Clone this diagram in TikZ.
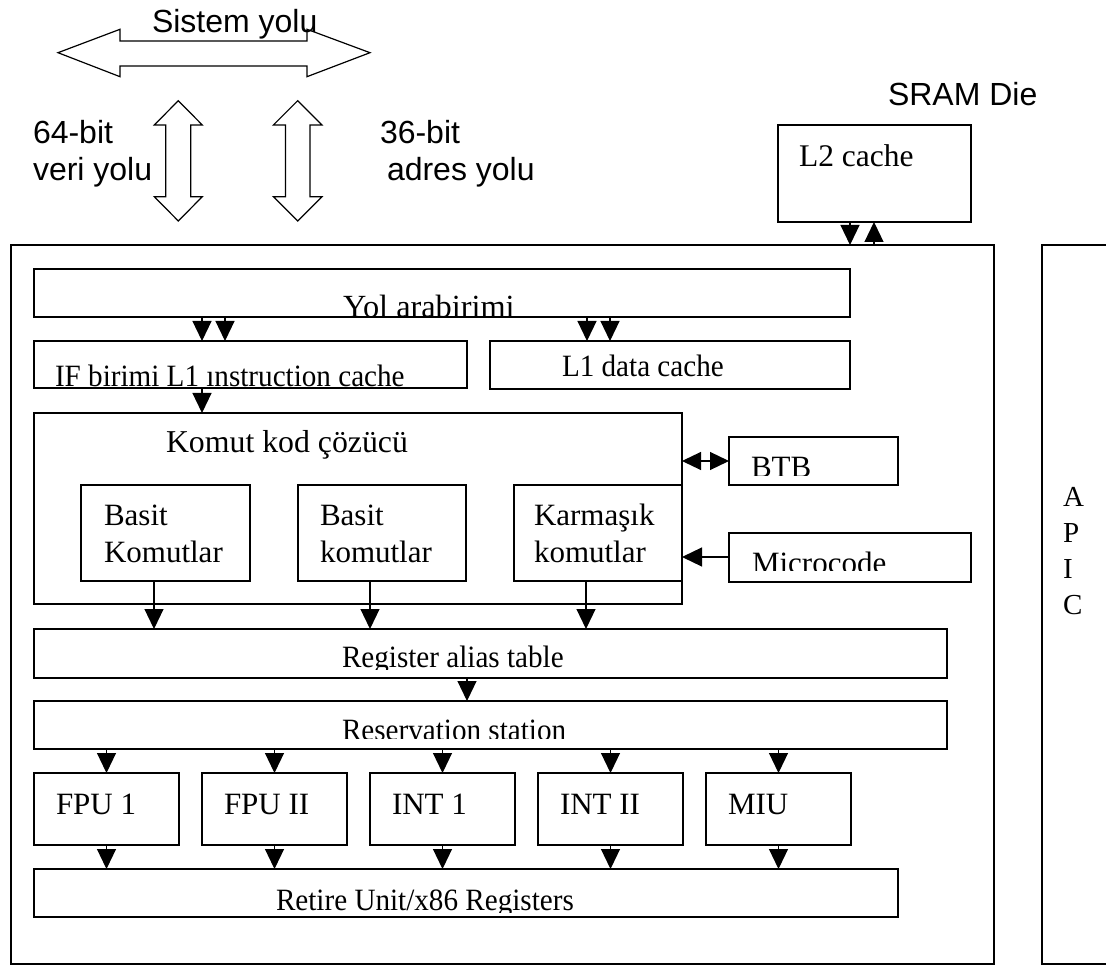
\documentclass[tikz,border=0pt]{standalone}
\usepackage{fontspec}
\setmainfont{Liberation Serif}
\setsansfont{Liberation Sans}
\usetikzlibrary{arrows.meta}
\newcommand\narrow[1]{\scalebox{0.94}[1]{#1}}
\begin{document}
\begin{tikzpicture}[x=1pt,y=-1pt,
  box/.style={draw, line width=1.4pt, inner sep=0pt, outer sep=0pt, anchor=north west},
  txt/.style={inner sep=0pt, outer sep=0pt, anchor=base west, font=\fontsize{31}{36}\selectfont},
  stxt/.style={inner sep=0pt, outer sep=0pt, anchor=base west, font=\sffamily\fontsize{32}{38}\selectfont},
  arr/.style={line width=1.2pt, -{Triangle[length=20pt,width=19pt]}},
  darr/.style={line width=1.2pt, {Triangle[length=19pt,width=18pt]}-{Triangle[length=19pt,width=18pt]}},
  blockarrow/.style={draw, line width=1.2pt, fill=white, line join=miter}]
\useasboundingbox (0,0) rectangle (1106,965);
\clip (0,0) rectangle (1106,965);

% system bus and the two bus arrows
\draw[blockarrow] (58,52.7) -- (120,29.3) -- (120,41) -- (307,41) -- (307,29.3) -- (370,52.7)
  -- (307,76.7) -- (307,66) -- (120,66) -- (120,76.7) -- cycle;
\node[stxt] (sys) at (152,33) {Sistem yolu};
\draw[blockarrow] (178.3,100.7) -- (202.3,125) -- (190.7,125) -- (190.7,196.7) -- (202.3,196.7)
  -- (178.3,221) -- (154.3,196.7) -- (165.7,196.7) -- (165.7,125) -- (154.3,125) -- cycle;
\draw[blockarrow] (297.7,100.7) -- (322,125) -- (310,125) -- (310,196.7) -- (322,196.7)
  -- (297.7,221) -- (273.4,196.7) -- (285.4,196.7) -- (285.4,125) -- (273.4,125) -- cycle;
\node[stxt] (d1) at (33,144) {64-bit};
\node[stxt] (d2) at (33,181) {veri yolu};
\node[stxt] (a1) at (380,144) {36-bit};
\node[stxt] (a2) at (387,181) {adres yolu};

% SRAM die with the L2 cache
\node[stxt] (sram) at (888,106) {SRAM Die};
\node[box, minimum width=193pt, minimum height=97pt] (l2) at (778,125) {};
\node[txt, font=\fontsize{31.5}{36}\selectfont] (l2t) at (799,167) {L2 cache};

% processor die and APIC
\node[box, minimum width=983pt, minimum height=719pt] (cpu) at (11,245) {};
\node[box, minimum width=90pt, minimum height=719pt] (apic) at (1042,245) {};
\foreach \ch/\yy [count=\i] in {A/506,P/542,I/578,C/614}
  \node[inner sep=0pt, anchor=base west, font=\fontsize{29}{34}\selectfont] (apic\i) at (1063,\yy) {\ch};

% bus interface and L1 caches
\node[box, minimum width=816pt, minimum height=48pt] (yol) at (34,269) {};
\begin{scope}
  \clip (34,269) rectangle (850,315.5);
  \node[txt, font=\fontsize{32.3}{36}\selectfont] (yolt) at (343,317.5) {Yol arabirimi};
\end{scope}
\node[box, minimum width=433pt, minimum height=47pt] (ifb) at (34,341) {};
\node[txt] (ifbt) at (55,387) {\narrow{IF birimi L1 ınstruction cache}};
\node[box, minimum width=360pt, minimum height=48pt] (l1d) at (490,341) {};
\node[txt] (l1dt) at (562,377) {\narrow{L1 data cache}};

% instruction decoder
\node[box, minimum width=648pt, minimum height=191pt] (kom) at (34,413) {};
\node[txt, font=\fontsize{31.8}{36}\selectfont] (komt) at (166,453) {Komut kod çözücü};
\node[box, minimum width=169pt, minimum height=96pt] (bas1) at (81,485) {};
\node[txt] (bas1a) at (104,525) {Basit};
\node[txt] (bas1b) at (104,562) {Komutlar};
\node[box, minimum width=168pt, minimum height=96pt] (bas2) at (298,485) {};
\node[txt] (bas2a) at (320,525) {Basit};
\node[txt] (bas2b) at (320,562) {komutlar};
\node[box, minimum width=168pt, minimum height=96pt] (karm) at (514,485) {};
\node[txt] (karma) at (534,525) {Karmaşık};
\node[txt] (karmb) at (534,562) {komutlar};

\node[box, minimum width=169pt, minimum height=48pt] (btb) at (729,437) {};
\begin{scope}
  \clip (729,437) rectangle (898,475);
  \node[txt] (btbt) at (751,478) {BTB};
\end{scope}
\node[box, minimum width=242pt, minimum height=49pt] (mic) at (729,533) {};
\begin{scope}
  \clip (729,533) rectangle (971,570);
  \node[txt] (mict) at (752,573) {Microcode};
\end{scope}

% rename and dispatch
\node[box, minimum width=913pt, minimum height=49pt] (rat) at (34,629) {};
\begin{scope}
  \clip (34,629) rectangle (947,669);
  \node[txt] (ratt) at (342,667) {\narrow{Register alias table}};
\end{scope}
\node[box, minimum width=913pt, minimum height=48pt] (res) at (34,701) {};
\begin{scope}
  \clip (34,701) rectangle (947,738.5);
  \node[txt] (rest) at (342,740) {\narrow{Reservation station}};
\end{scope}

% execution units
\foreach \nm/\xx/\lab in {fpua/34/FPU 1, fpub/202/FPU II, inta/370/INT 1, intb/538/INT II, miu/706/MIU}{
  \node[box, minimum width=145pt, minimum height=72pt] (\nm) at (\xx,773) {};
  \node[txt] (\nm t) at (\xx+22,814) {\lab};
}

% retirement
\node[box, minimum width=864pt, minimum height=48pt] (ret) at (34,869) {};
\begin{scope}
  \clip (34,869) rectangle (898,912);
  \node[txt] (rett) at (276,910) {\narrow{Retire Unit/x86 Registers}};
\end{scope}

% connectors
\coordinate (ca) at (202,0);
\coordinate (cb) at (225,0);
\coordinate (cc) at (587,0);
\coordinate (cd) at (610,0);
\coordinate (ce) at (154,0);
\coordinate (cf) at (370,0);
\coordinate (cg) at (586,0);
\coordinate (ch) at (467,0);
\coordinate (ci) at (850,0);
\coordinate (cj) at (874,0);
\coordinate (ck) at (0,461);
\coordinate (cl) at (0,557);

\draw[arr] (l2.south -| ci) -- (cpu.north -| ci);
\draw[arr] (cpu.north -| cj) -- (l2.south -| cj);
\draw[arr] (yol.south -| ca) -- (ifb.north -| ca);
\draw[arr] (yol.south -| cb) -- (ifb.north -| cb);
\draw[arr] (yol.south -| cc) -- (l1d.north -| cc);
\draw[arr] (yol.south -| cd) -- (l1d.north -| cd);
\draw[arr] (ifb.south -| ca) -- (kom.north -| ca);
\draw[arr] (bas1.south -| ce) -- (rat.north -| ce);
\draw[arr] (bas2.south -| cf) -- (rat.north -| cf);
\draw[arr] (karm.south -| cg) -- (rat.north -| cg);
\draw[darr] (kom.east |- ck) -- (btb.west |- ck);
\draw[arr] (mic.west |- cl) -- (kom.east |- cl);
\draw[arr] (rat.south -| ch) -- (res.north -| ch);
\foreach \nm in {fpua,fpub,inta,intb,miu}{
  \draw[arr] (res.south -| \nm.north) -- (\nm.north);
  \draw[arr] (\nm.south) -- (ret.north -| \nm.south);
}
\end{tikzpicture}
\end{document}
